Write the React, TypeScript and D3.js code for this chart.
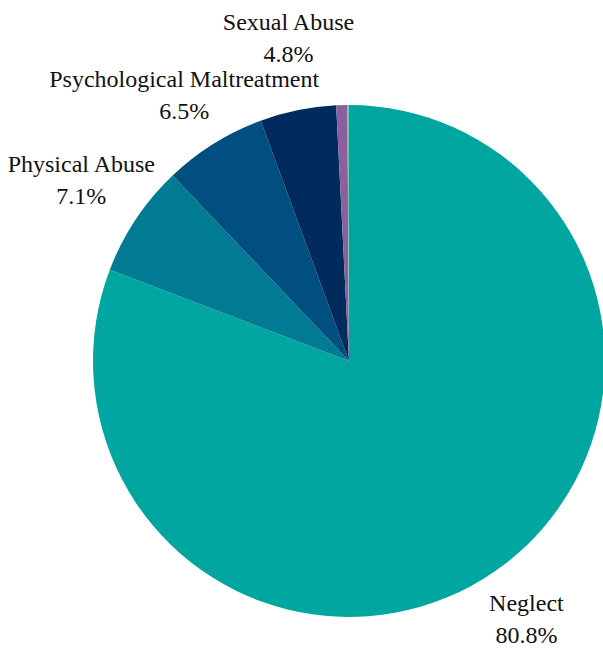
import React from "react";
import * as d3 from "d3";

const categories = ["Neglect", "Physical Abuse", "Psychological Maltreatment", "Sexual Abuse", "Other", "Unknown"];
const values = [80.8, 7.1, 6.5, 4.8, 0.7, 0.1];
const showLabel = [true, true, true, true, false, false];
const colors = ["#00a69f", "#007b94", "#004f80", "#002b5c", "#8e5f9e", "#6cc6a4"];
// small nudges for label blocks (px)
const labelNudgeY = [-6, 4, 15, 0, 0, 0];
const labelNudgeX = [-3, -3, 3, 3, 0, 0];

const W = 603;
const H = 650;
const cx = 349;
const cy = 361;
const R = 256;
const LR = 318;

export default function App() {
  const data = categories.map((c, i) => ({ c, v: values[i], i }));
  const pie = d3.pie<any>().value((d) => d.v).sort(null);
  const arcs = pie(data);
  const arc = d3.arc<any>().innerRadius(0).outerRadius(R);

  return (
    <svg width={W} height={H} style={{ position: "absolute", left: 0, top: 0, background: "#fff" }}>
      <g transform={`translate(${cx},${cy})`}>
        {arcs.map((a, i) => (
          <path key={i} d={arc(a) as string} fill={colors[i]} />
        ))}
        {arcs.map((a, i) => {
          if (!showLabel[i]) return null;
          const m = (a.startAngle + a.endAngle) / 2;
          const x = LR * Math.sin(m) + labelNudgeX[i];
          const y = -LR * Math.cos(m);
          const b1 = y - 12 - 8 * Math.cos(m) + labelNudgeY[i];
          return (
            <text
              key={"l" + i}
              x={x}
              textAnchor="middle"
              style={{ fontFamily: "Liberation Serif, DejaVu Serif, Times New Roman, serif" }}
              fontSize={24}
              fill="#111"
            >
              <tspan x={x} y={b1}>{categories[i]}</tspan>
              <tspan x={x} y={b1 + 32}>{values[i].toFixed(1)}%</tspan>
            </text>
          );
        })}
      </g>
    </svg>
  );
}
